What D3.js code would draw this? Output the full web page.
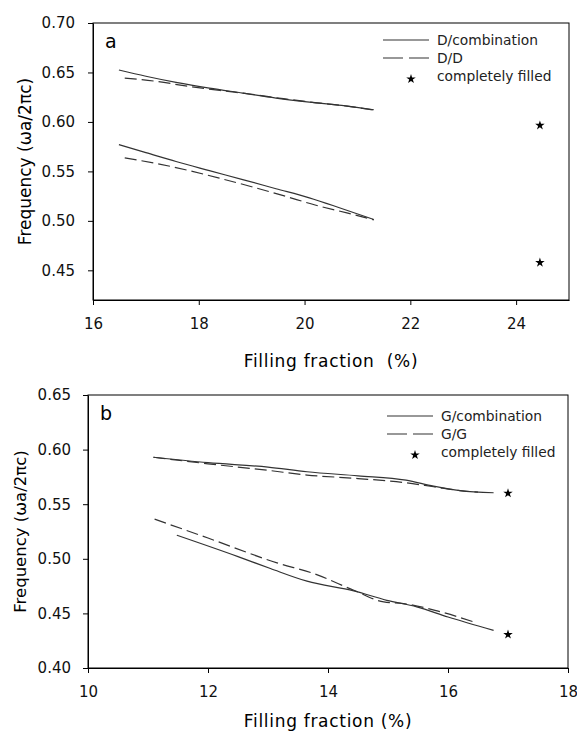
<!DOCTYPE html>
<html>
<head>
<meta charset="utf-8">
<script src="https://cdn.jsdelivr.net/npm/d3@7"></script>
<style>
  body { margin: 0; background: #fff; }
  svg { display: block; }
</style>
</head>
<body>
<div id="chart"></div>
<script>
// panel a : D structure
const aCombX = [16.49, 17.0, 17.57, 18.2, 18.83, 19.46, 20.09, 20.7, 21.31];
const aCombUp = [0.6525, 0.6462, 0.6400, 0.6342, 0.6292, 0.6241, 0.6200, 0.6167, 0.6123];
const aCombLow = [0.5770, 0.5690, 0.5600, 0.5508, 0.5417, 0.5325, 0.5233, 0.5125, 0.5014];
const aDDX = [16.6, 17.2, 17.8, 18.4, 19.0, 19.6, 20.2, 20.8, 21.31];
const aDDUp = [0.6443, 0.6410, 0.6360, 0.6318, 0.6280, 0.6235, 0.6195, 0.6160, 0.6120];
const aDDLow = [0.5636, 0.5580, 0.5510, 0.5430, 0.5345, 0.5255, 0.5160, 0.5080, 0.5010];
const aFilledX = [24.45, 24.45];
const aFilledY = [0.5965, 0.4578];

// panel b : G structure
const bCombUpX = [11.09, 12.0, 13.0, 13.65, 14.5, 15.3, 15.76, 16.2, 16.76];
const bCombUp = [0.5930, 0.5880, 0.5840, 0.5797, 0.5760, 0.5720, 0.5665, 0.5625, 0.5605];
const bGGUpX = [11.09, 12.0, 13.0, 13.65, 14.5, 15.3, 15.76, 16.2, 16.5];
const bGGUp = [0.5930, 0.5870, 0.5810, 0.5767, 0.5735, 0.5696, 0.5660, 0.5625, 0.5610];
const bCombLowX = [11.48, 12.5, 13.04, 13.65, 14.43, 14.98, 15.48, 16.0, 16.76];
const bCombLow = [0.5216, 0.5020, 0.4911, 0.4795, 0.4706, 0.4620, 0.4560, 0.4467, 0.4345];
const bGGLowX = [11.11, 12.0, 13.15, 13.76, 14.43, 14.93, 15.26, 15.82, 16.43];
const bGGLow = [0.5363, 0.5190, 0.4963, 0.4865, 0.4712, 0.4605, 0.4590, 0.4523, 0.4422];
const bFilledX = [17.0, 17.0];
const bFilledY = [0.5600, 0.4306];

const aXTicks = [16, 18, 20, 22, 24];
const aYTicks = [0.45, 0.50, 0.55, 0.60, 0.65, 0.70];
const bXTicks = [10, 12, 14, 16, 18];
const bYTicks = [0.40, 0.45, 0.50, 0.55, 0.60, 0.65];

const width = 577, height = 739;
const tickFont = "'DejaVu Sans', Verdana, sans-serif";
const handFont = "'DejaVu Sans', sans-serif";
const lineCol = '#333';
const dashPat = '12,5';

const svg = d3.select('#chart').append('svg')
  .attr('width', width)
  .attr('height', height);

const zip = (xs, ys) => xs.map((x, i) => [x, ys[i]]);

function panel(cfg) {
  const x = d3.scaleLinear().domain(cfg.xDomain).range([cfg.left, cfg.right]);
  const y = d3.scaleLinear().domain(cfg.yDomain).range([cfg.bottom, cfg.top]);
  const g = svg.append('g');

  // frame
  g.append('rect')
    .attr('x', cfg.left).attr('y', cfg.top)
    .attr('width', cfg.right - cfg.left).attr('height', cfg.bottom - cfg.top)
    .attr('fill', 'none').attr('stroke', '#000').attr('stroke-width', 1);

  const xAxis = g.append('g')
    .attr('transform', 'translate(0,' + cfg.bottom + ')')
    .call(d3.axisBottom(x).tickValues(cfg.xTicks).tickFormat(d3.format('d'))
      .tickSize(5).tickSizeOuter(0).tickPadding(13));
  const yAxis = g.append('g')
    .attr('transform', 'translate(' + cfg.left + ',0)')
    .call(d3.axisLeft(y).tickValues(cfg.yTicks).tickFormat(d3.format('.2f'))
      .tickSize(5).tickSizeOuter(0).tickPadding(cfg.yPad));
  [xAxis, yAxis].forEach(ax => {
    ax.select('.domain').attr('stroke', '#000');
    ax.selectAll('.tick line').attr('stroke', '#000');
    ax.selectAll('text').style('font-family', tickFont).style('font-size', '15px').attr('fill', '#111');
  });

  const line = d3.line().x(d => x(d[0])).y(d => y(d[1])).curve(d3.curveMonotoneX);
  cfg.series.forEach(s => {
    g.append('path')
      .datum(zip(s.xs, s.ys))
      .attr('d', line)
      .attr('fill', 'none')
      .attr('stroke', lineCol)
      .attr('stroke-width', 1.2)
      .attr('stroke-dasharray', s.dashed ? dashPat : null);
  });

  const star = d3.symbol().type(d3.symbolStar).size(28);
  g.selectAll('.star')
    .data(zip(cfg.filledX, cfg.filledY))
    .join('path')
    .attr('transform', d => 'translate(' + x(d[0]) + ',' + y(d[1]) + ')')
    .attr('d', star)
    .attr('fill', '#000');

  // panel letter
  g.append('text')
    .attr('x', cfg.left + 12).attr('y', cfg.top + 25)
    .style('font-family', handFont).style('font-size', '19px')
    .text(cfg.letter);

  // axis titles
  g.append('text')
    .attr('x', (cfg.left + cfg.right) / 2).attr('y', cfg.xTitleY)
    .attr('text-anchor', 'middle')
    .style('font-family', handFont).style('font-size', '17px')
    .style('letter-spacing', '0.7px')
    .style('white-space', 'pre')
    .text(cfg.xTitle);
  g.append('text')
    .attr('transform', 'translate(' + cfg.yTitleX + ',' + (cfg.top + cfg.bottom) / 2 + ') rotate(-90)')
    .attr('text-anchor', 'middle')
    .style('font-family', tickFont).style('font-size', cfg.yTitleSize)
    .text('Frequency (ωa/2πc)');

  // legend
  const lg = g.append('g').attr('transform', 'translate(' + cfg.legX + ',' + cfg.legY + ')');
  cfg.legend.forEach((name, i) => {
    const ly = i * 18;
    if (i < 2) {
      lg.append('line')
        .attr('x1', 0).attr('x2', 46).attr('y1', ly).attr('y2', ly)
        .attr('stroke', lineCol).attr('stroke-width', 1.2)
        .attr('stroke-dasharray', i === 1 ? '20,6' : null);
    } else {
      lg.append('path')
        .attr('transform', 'translate(28,' + (ly + 3) + ')')
        .attr('d', star).attr('fill', '#000');
    }
    lg.append('text')
      .attr('x', 54).attr('y', ly + 5)
      .style('font-family', handFont).style('font-size', '13.8px')
      .attr('fill', '#222')
      .text(name);
  });
}

panel({
  left: 93, right: 569, top: 23, bottom: 300,
  xDomain: [16, 25], yDomain: [0.42, 0.70],
  xTicks: aXTicks, yTicks: aYTicks, yPad: 13,
  series: [
    { xs: aCombX, ys: aCombUp, dashed: false },
    { xs: aCombX, ys: aCombLow, dashed: false },
    { xs: aDDX, ys: aDDUp, dashed: true },
    { xs: aDDX, ys: aDDLow, dashed: true }
  ],
  filledX: aFilledX, filledY: aFilledY,
  letter: 'a',
  xTitle: 'Filling fraction  (%)', xTitleY: 367, yTitleX: 31, yTitleSize: '17px',
  legX: 383, legY: 40,
  legend: ['D/combination', 'D/D', 'completely filled']
});

panel({
  left: 88, right: 568, top: 395, bottom: 668,
  xDomain: [10, 18], yDomain: [0.40, 0.65],
  xTicks: bXTicks, yTicks: bYTicks, yPad: 12,
  series: [
    { xs: bCombUpX, ys: bCombUp, dashed: false },
    { xs: bCombLowX, ys: bCombLow, dashed: false },
    { xs: bGGUpX, ys: bGGUp, dashed: true },
    { xs: bGGLowX, ys: bGGLow, dashed: true }
  ],
  filledX: bFilledX, filledY: bFilledY,
  letter: 'b',
  xTitle: 'Filling fraction (%)', xTitleY: 727, yTitleX: 26, yTitleSize: '16.5px',
  legX: 387, legY: 416,
  legend: ['G/combination', 'G/G', 'completely filled']
});
</script>
</body>
</html>
